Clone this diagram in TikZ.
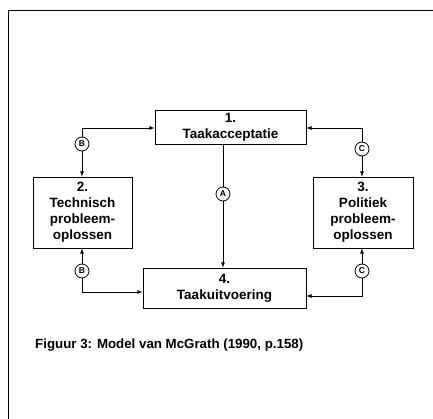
\documentclass[tikz,border=0pt]{standalone}
\usepackage{fontspec}
\setmainfont{Liberation Sans}
\tikzset{
  fase/.style={draw, thick, align=center, font=\fontsize{13.5}{16}\selectfont\bfseries, inner sep=0pt},
  knoop/.style={draw, thick, circle, minimum size=14pt, inner sep=0pt, font=\fontsize{8.5}{9}\selectfont\bfseries},
  pijl/.style={thick, ->, >=latex}
}
\begin{document}
\begin{tikzpicture}[x=1pt, y=-1pt]
  \useasboundingbox (0,0) rectangle (433,419);
  % kader
  \draw (433,10) -- (8,10) -- (8,419);
  % fasen
  \node[fase, minimum width=151pt, minimum height=34pt] (taak1) at (230.5,127) {1.\\Taakacceptatie};
  \node[fase, minimum width=99pt, minimum height=71pt] (taak2) at (82.5,212.5) {2.\\Technisch\\probleem-\\oplossen};
  \node[fase, minimum width=100pt, minimum height=71pt] (taak3) at (363,212.5) {3.\\Politiek\\probleem-\\oplossen};
  \node[fase, minimum width=163pt, minimum height=40pt] (taak4) at (224.5,288) {4.\\Taakuitvoering};
  % routes
  \node[knoop] (b1) at (82,144) {B};
  \node[knoop] (b2) at (82,271) {B};
  \node[knoop] (c1) at (362,149) {C};
  \node[knoop] (c2) at (362,271) {C};
  \node[knoop] (a) at (223,194) {A};
  \draw[pijl] (b1) |- ([yshift=-1pt]taak1.west);
  \draw[pijl] (b1) -- (b1 |- taak2.north);
  \draw[pijl] (c1) |- ([yshift=-1pt]taak1.east);
  \draw[pijl] (c1) -- (c1 |- taak3.north);
  \draw[pijl] (b2) -- (b2 |- taak2.south);
  \draw[pijl] (b2) |- ([yshift=-4pt]taak4.west);
  \draw[pijl] (c2) -- (c2 |- taak3.south);
  \draw[pijl] (c2) |- ([yshift=-8pt]taak4.east);
  \draw[thick] (a) -- (a |- taak1.south);
  \draw[pijl] (a) -- (a |- taak4.north);
  % onderschrift
  \node[anchor=base west, inner sep=0pt, font=\fontsize{13.3}{16}\selectfont\bfseries] (bijschrift) at (35,348) {Figuur 3: Model van McGrath (1990, p.158)};
\end{tikzpicture}
\end{document}
